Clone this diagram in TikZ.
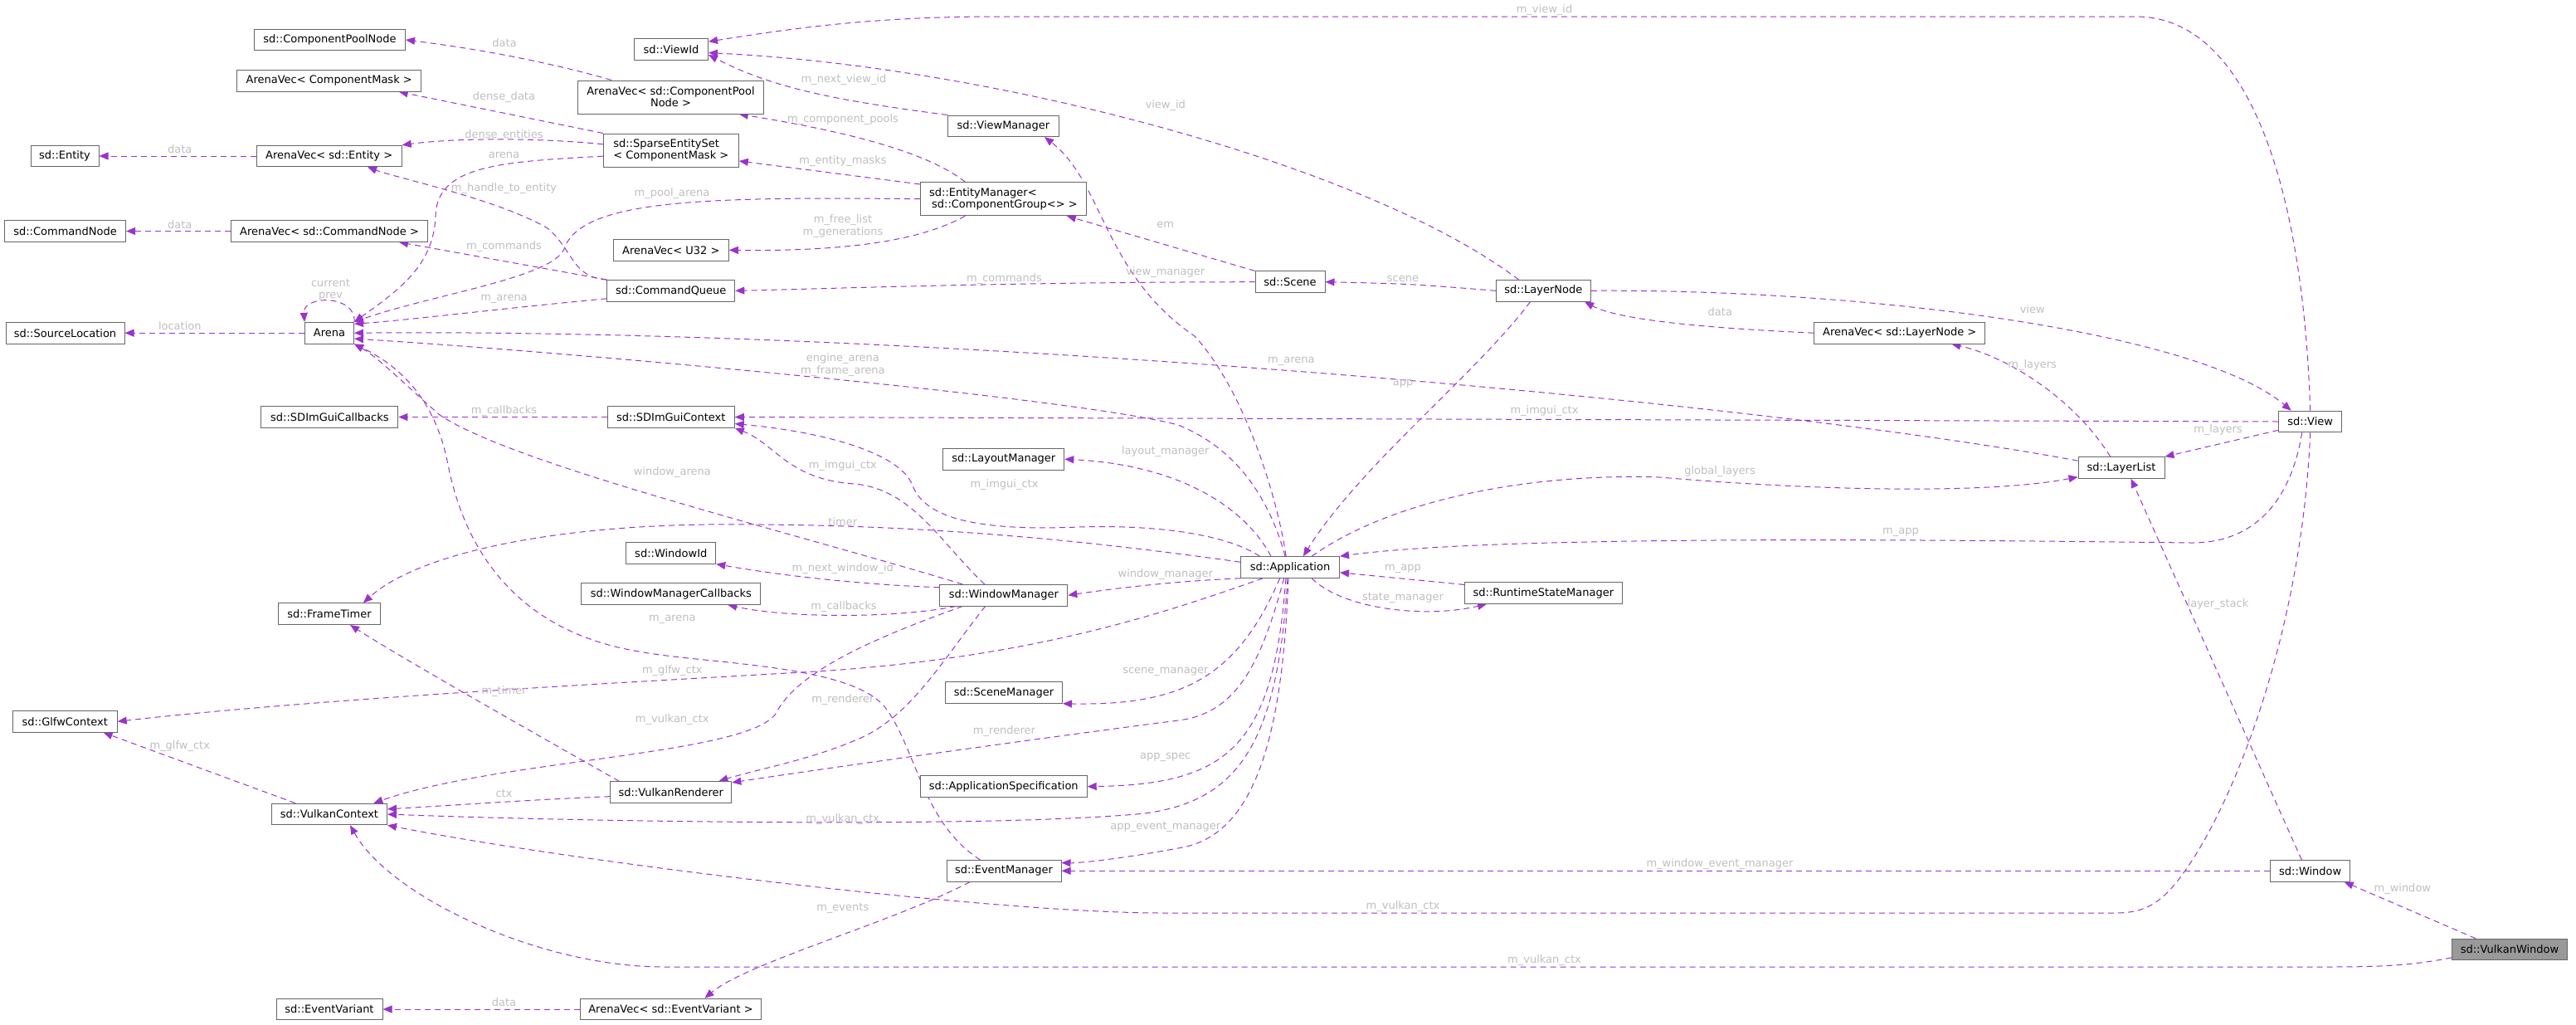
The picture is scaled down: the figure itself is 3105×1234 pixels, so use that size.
\documentclass[tikz,border=0pt]{standalone}
\usepackage{fontspec}
\setmainfont{DejaVu Sans}
\usepackage{xcolor}
\usepackage{tikz}
\usetikzlibrary{arrows.meta,backgrounds}

\definecolor{edgecol}{HTML}{9A32CD}
\definecolor{lblcol}{HTML}{BEBEBE}
\definecolor{boxline}{HTML}{666666}
\definecolor{curfill}{HTML}{999999}

\begin{document}
\begin{tikzpicture}[
  x=1pt, y=-1pt,
  font=\fontsize{13}{14.3}\selectfont,
  box/.style={draw=boxline, fill=white, line width=1pt, minimum height=25.6, inner xsep=3pt, inner ysep=2pt},
  curbox/.style={box, fill=curfill},
  link/.style={draw=edgecol, dashed, dash pattern=on 7pt off 5pt, line width=1pt, -{Triangle[length=11pt,width=9pt]}},
  lbl/.style={text=lblcol, align=center, inner sep=0pt}
]
\useasboundingbox (0,0) rectangle (3105,1234);

% Classes, left columns
\node[box, minimum width=182] (cpn) at (397.5,48) {sd::ComponentPoolNode};
\node[box, minimum width=222] (avmask) at (396.7,97.3) {ArenaVec< ComponentMask >};
\node[box, minimum width=82] (entity) at (78,188) {sd::Entity};
\node[box, minimum width=175] (aventity) at (396.7,188) {ArenaVec< sd::Entity >};
\node[box, minimum width=146] (cmdnode) at (78.6,278.5) {sd::CommandNode};
\node[box, minimum width=237] (avcmd) at (397,278.5) {ArenaVec< sd::CommandNode >};
\node[box, minimum width=143] (srcloc) at (78.5,401.2) {sd::SourceLocation};
\node[box, minimum width=59] (arena) at (397,401.2) {Arena};
\node[box, minimum width=165] (imcb) at (397.4,502.5) {sd::SDImGuiCallbacks};
\node[box, minimum width=123] (frametimer) at (397,739.7) {sd::FrameTimer};
\node[box, minimum width=126] (glfw) at (78.2,869.3) {sd::GlfwContext};
\node[box, minimum width=139] (vkctx) at (397,981) {sd::VulkanContext};
\node[box, minimum width=128] (evvar) at (397,1216) {sd::EventVariant};

\node[box, minimum width=89] (viewid) at (809,59.7) {sd::ViewId};
\node[box, minimum width=224, minimum height=40, align=center] (avpool) at (808.5,117) {ArenaVec< sd::ComponentPool\\Node >};
\node[box, minimum width=163, minimum height=40, align=left] (sparse) at (808.8,181) {sd::SparseEntitySet\\< ComponentMask >};
\node[box, minimum width=139] (avu32) at (808.8,301.3) {ArenaVec< U32 >};
\node[box, minimum width=154] (cmdq) at (808.8,350.3) {sd::CommandQueue};
\node[box, minimum width=153] (imctx) at (808.8,502.5) {sd::SDImGuiContext};
\node[box, minimum width=108] (windowid) at (808.8,666.3) {sd::WindowId};
\node[box, minimum width=216] (wmcb) at (808.8,715.5) {sd::WindowManagerCallbacks};
\node[box, minimum width=146] (vkrend) at (808.8,954.5) {sd::VulkanRenderer};
\node[box, minimum width=218] (avev) at (808.5,1216) {ArenaVec< sd::EventVariant >};

% Classes, middle
\node[box, minimum width=134] (viewmgr) at (1209.4,151.8) {sd::ViewManager};
\node[box, minimum width=200, minimum height=40, align=left] (entmgr) at (1209.4,239.7) {sd::EntityManager<\\\hspace*{3pt}sd::ComponentGroup<> >};
\node[box, minimum width=146] (layoutmgr) at (1209.8,553.2) {sd::LayoutManager};
\node[box, minimum width=154] (windowmgr) at (1209.8,717.2) {sd::WindowManager};
\node[box, minimum width=141] (scenemgr) at (1210,834.5) {sd::SceneManager};
\node[box, minimum width=201] (appspec) at (1209.7,947.7) {sd::ApplicationSpecification};
\node[box, minimum width=138] (eventmgr) at (1210,1049.3) {sd::EventManager};

% Classes, right
\node[box, minimum width=84] (scene) at (1555,339.7) {sd::Scene};
\node[box, minimum width=119] (app) at (1555,683.5) {sd::Application};
\node[box, minimum width=114] (layernode) at (1860.4,350.3) {sd::LayerNode};
\node[box, minimum width=190] (rtsm) at (1860.4,714.5) {sd::RuntimeStateManager};
\node[box, minimum width=206] (avlayer) at (2289.7,401.2) {ArenaVec< sd::LayerNode >};
\node[box, minimum width=104] (layerlist) at (2557,563.5) {sd::LayerList};
\node[box, minimum width=76] (view) at (2784.7,508) {sd::View};
\node[box, minimum width=96] (window) at (2784.7,1049.3) {sd::Window};
\node[curbox, minimum width=139] (vkwin) at (3025,1144) {sd::VulkanWindow};

\begin{scope}[on background layer]
% Members of the containers and the arena
\draw[link] (avpool.164) .. controls (680,80) and (600,62) .. (cpn.east);
\draw[link] (sparse.north west) -- (avmask.-9);
\draw[link] (sparse.175) .. controls (660,167) and (560,165) .. (aventity.north east);
\draw[link] (sparse.185) .. controls (600,195) and (527,200) .. (525,260) .. controls (523,320) and (480,350) .. (arena.north east);
\draw[link] (aventity.west) -- (entity.east);
\draw[link] (cmdq.north west) .. controls (690,335) and (690,300) .. (660,275) .. controls (600,240) and (480,215) .. (aventity.-16);
\draw[link] (avcmd.west) -- (cmdnode.east);
\draw[link] (cmdq.north west) -- (avcmd.-9);
\draw[link] (cmdq.187) .. controls (600,372) and (500,385) .. (arena.20);
\draw[link] (entmgr.west) .. controls (850,237) and (700,240) .. (680,300) .. controls (665,335) and (520,355) .. (arena.north east);
\draw[link] (entmgr.170) -- (sparse.-9);
\draw[link] (entmgr.156) .. controls (1120,185) and (1030,160) .. (avpool.-14);
\draw[link] (entmgr.-156) .. controls (1110,290) and (1020,303) .. (avu32.east);
\draw[link] (arena.north east) .. controls (430,355) and (365,355) .. (arena.north west);
\draw[link] (arena.west) -- (srcloc.east);

% Views, scenes and layers
\draw[link] (viewmgr.north west) .. controls (1000,120) and (930,105) .. (viewid.-8);
\draw[link] (layernode.156) .. controls (1650,200) and (1200,80) .. (viewid.-5);
\draw[link] (view.north) .. controls (2775,200) and (2700,20) .. (2575,20) -- (1200,20) .. controls (1050,20) and (950,35) .. (viewid.12);
\draw[link] (scene.north west) -- (entmgr.-15);
\draw[link] (scene.west) .. controls (1200,340) and (1000,348) .. (cmdq.east);
\draw[link] (app.110) .. controls (1540,600) and (1500,470) .. (1440,405) .. controls (1330,330) and (1330,220) .. (viewmgr.-15);
\draw[link] (layernode.west) .. controls (1700,342) .. (scene.east);
\draw[link] (avlayer.west) .. controls (2050,395) and (1950,385) .. (layernode.-15);
\draw[link] (layernode.east) .. controls (2250,348) and (2650,400) .. (view.150);
\draw[link] (layernode.220) .. controls (1780,450) and (1640,560) .. (app.40);
\draw[link] (layerlist.171) .. controls (2100,480) and (1100,395) .. (arena.east);
\draw[link] (app.114) .. controls (1530,600) and (1490,540) .. (1420,512) .. controls (1300,480) and (700,425) .. (arena.-13);
\draw[link] (windowmgr.165) .. controls (950,640) and (620,560) .. (530,500) .. controls (490,465) and (455,430) .. (arena.south east);
\draw[link] (eventmgr.155) .. controls (1110,990) and (1105,900) .. (1065,850) .. controls (1020,800) and (850,800) .. (770,785) .. controls (620,760) and (560,660) .. (540,560) .. controls (525,480) and (480,440) .. (arena.south east);
\draw[link] (imctx.west) -- (imcb.east);
\draw[link] (view.west) -- (imctx.east);
\draw[link] (windowmgr.150) .. controls (1130,650) and (1100,590) .. (1030,583) .. controls (950,578) and (935,535) .. (imctx.south east);
\draw[link] (app.160) .. controls (1480,645) and (1400,632) .. (1300,635) .. controls (1180,640) and (1115,625) .. (1100,585) .. controls (1085,545) and (990,520) .. (imctx.-6);
\draw[link] (layerlist.135) .. controls (2500,480) and (2420,430) .. (avlayer.-12);
\draw[link] (view.195) -- (layerlist.north east);
\draw[link] (app.150) .. controls (1500,610) and (1420,560) .. (layoutmgr.east);
\draw[link] (app.27) .. controls (1680,600) and (1850,570) .. (2000,575) .. controls (2200,592) and (2400,595) .. (layerlist.192);
\draw[link] (view.233) .. controls (2762,600) and (2720,655) .. (2640,654) .. controls (2300,650) and (1800,645) .. (app.north east);
\draw[link] (window.128) -- (layerlist.-49);

% Application members
\draw[link] (app.174) .. controls (1300,650) and (1100,630) .. (850,632) .. controls (650,635) and (500,670) .. (frametimer.18);
\draw[link] (windowmgr.173) .. controls (1050,705) and (950,695) .. (windowid.south east);
\draw[link] (windowmgr.193) .. controls (1080,745) and (950,745) .. (wmcb.-11);
\draw[link] (app.south west) .. controls (1420,700) and (1350,708) .. (windowmgr.east);
\draw[link] (rtsm.174) -- (app.-6);
\draw[link] (app.-27) .. controls (1620,735) and (1720,745) .. (rtsm.191);
\draw[link] (app.202) .. controls (1400,740) and (1250,790) .. (1000,808) .. controls (800,820) and (400,840) .. (glfw.east);
\draw[link] (vkrend.168) .. controls (620,870) and (480,790) .. (frametimer.-28);
\draw[link] (windowmgr.195) .. controls (1050,770) and (960,810) .. (935,860) .. controls (900,910) and (600,915) .. (vkctx.14);
\draw[link] (windowmgr.211) .. controls (1140,790) and (1100,860) .. (1040,888) .. controls (980,915) and (920,925) .. (vkrend.13);
\draw[link] (app.227) .. controls (1490,820) and (1420,850) .. (scenemgr.south east);
\draw[link] (vkctx.162) -- (glfw.-16);
\draw[link] (app.241) .. controls (1520,800) and (1490,860) .. (1420,868) .. controls (1250,890) and (1000,925) .. (vkrend.9);
\draw[link] (vkrend.184) .. controls (650,963) and (550,970) .. (vkctx.5);
\draw[link] (app.257) .. controls (1540,900) and (1490,965) .. (1380,980) .. controls (1200,998) and (700,990) .. (vkctx.east);
\draw[link] (app.249) .. controls (1535,900) and (1480,945) .. (appspec.east);
\draw[link] (app.261) .. controls (1545,920) and (1500,1010) .. (1420,1022) .. controls (1350,1035) and (1300,1040) .. (eventmgr.8);
\draw[link] (window.west) -- (eventmgr.east);
\draw[link] (view.south) .. controls (2775,750) and (2700,950) .. (2640,1040) .. controls (2610,1085) and (2590,1100) .. (2550,1100) -- (1400,1100) .. controls (1200,1100) and (700,1040) .. (vkctx.south east);
\draw[link] (vkwin.188) .. controls (2900,1165) and (2850,1165) .. (2800,1165) -- (800,1165) .. controls (650,1165) and (470,1080) .. (vkctx.-28);
\draw[link] (vkwin.162) -- (window.-18);
\draw[link] (eventmgr.198) .. controls (1080,1110) and (900,1160) .. (avev.18);
\draw[link] (avev.west) -- (evvar.east);
\end{scope}

% Edge labels
\node[lbl] (l1) at (608,52) {data};
\node[lbl] (l2) at (1017,96) {m\_next\_view\_id};
\node[lbl] (l3) at (607.5,117) {dense\_data};
\node[lbl] (l4) at (1016,144) {m\_component\_pools};
\node[lbl] (l5) at (216.8,180) {data};
\node[lbl] (l6) at (607.5,162.7) {dense\_entities};
\node[lbl] (l7) at (607.5,186.7) {arena};
\node[lbl] (l8) at (1016,194.3) {m\_entity\_masks};
\node[lbl] (l9) at (607.5,226.7) {m\_handle\_to\_entity};
\node[lbl] (l10) at (810,232.7) {m\_pool\_arena};
\node[lbl] (l11) at (1016,272.5) {m\_free\_list\\m\_generations};
\node[lbl] (l12) at (216.8,270.7) {data};
\node[lbl] (l13) at (607.5,296.7) {m\_commands};
\node[lbl] (l14) at (398.5,349.2) {current\\prev};
\node[lbl] (l15) at (607.5,360.7) {m\_arena};
\node[lbl] (l16) at (216.8,392.7) {location};
\node[lbl] (l17) at (1861.5,11.7) {m\_view\_id};
\node[lbl] (l18) at (1404.8,127.3) {view\_id};
\node[lbl] (l19) at (1404.8,270.7) {em};
\node[lbl] (l20) at (1404.8,328.3) {view\_manager};
\node[lbl] (l21) at (1210.5,336) {m\_commands};
\node[lbl] (l22) at (1691,336) {scene};
\node[lbl] (l23) at (2073.3,376) {data};
\node[lbl] (l24) at (2449.7,372.7) {view};
\node[lbl] (l25) at (1015.8,439.5) {engine\_arena\\m\_frame\_arena};
\node[lbl] (l26) at (607.5,494.7) {m\_callbacks};
\node[lbl] (l27) at (1015.8,561) {m\_imgui\_ctx};
\node[lbl] (l28) at (810.3,569) {window\_arena};
\node[lbl] (l29) at (1015.8,628.7) {timer};
\node[lbl] (l30) at (1015.8,685) {m\_next\_window\_id};
\node[lbl] (l31) at (1017,730.7) {m\_callbacks};
\node[lbl] (l32) at (810.3,746.7) {m\_arena};
\node[lbl] (l33) at (810.3,808.3) {m\_glfw\_ctx};
\node[lbl] (l34) at (1556.3,435) {m\_arena};
\node[lbl] (l35) at (1691,462.7) {app};
\node[lbl] (l36) at (1861.5,494.7) {m\_imgui\_ctx};
\node[lbl] (l37) at (1404.8,544) {layout\_manager};
\node[lbl] (l38) at (2073,567.7) {global\_layers};
\node[lbl] (l39) at (1210.5,584) {m\_imgui\_ctx};
\node[lbl] (l40) at (1404.8,692) {window\_manager};
\node[lbl] (l41) at (1691,685) {m\_app};
\node[lbl] (l42) at (1691,720) {state\_manager};
\node[lbl] (l43) at (1404.8,809.3) {scene\_manager};
\node[lbl] (l44) at (2449.7,440) {m\_layers};
\node[lbl] (l45) at (2673.5,518.3) {m\_layers};
\node[lbl] (l46) at (2291,641) {m\_app};
\node[lbl] (l47) at (2673.5,728.3) {layer\_stack};
\node[lbl] (l48) at (607.5,833.3) {m\_timer};
\node[lbl] (l49) at (1015.8,842.7) {m\_renderer};
\node[lbl] (l50) at (810.3,866.7) {m\_vulkan\_ctx};
\node[lbl] (l51) at (216.8,898.7) {m\_glfw\_ctx};
\node[lbl] (l52) at (607.5,955.7) {ctx};
\node[lbl] (l53) at (1015.8,986.7) {m\_vulkan\_ctx};
\node[lbl] (l54) at (1015.8,1094.7) {m\_events};
\node[lbl] (l55) at (607.5,1207.3) {data};
\node[lbl] (l56) at (1210.5,881) {m\_renderer};
\node[lbl] (l57) at (1404.8,912.3) {app\_spec};
\node[lbl] (l58) at (1404.8,996) {app\_event\_manager};
\node[lbl] (l59) at (2073,1040.7) {m\_window\_event\_manager};
\node[lbl] (l60) at (1691,1091.7) {m\_vulkan\_ctx};
\node[lbl] (l61) at (1861.5,1156.7) {m\_vulkan\_ctx};
\node[lbl] (l62) at (2895.8,1070.7) {m\_window};

\end{tikzpicture}
\end{document}
